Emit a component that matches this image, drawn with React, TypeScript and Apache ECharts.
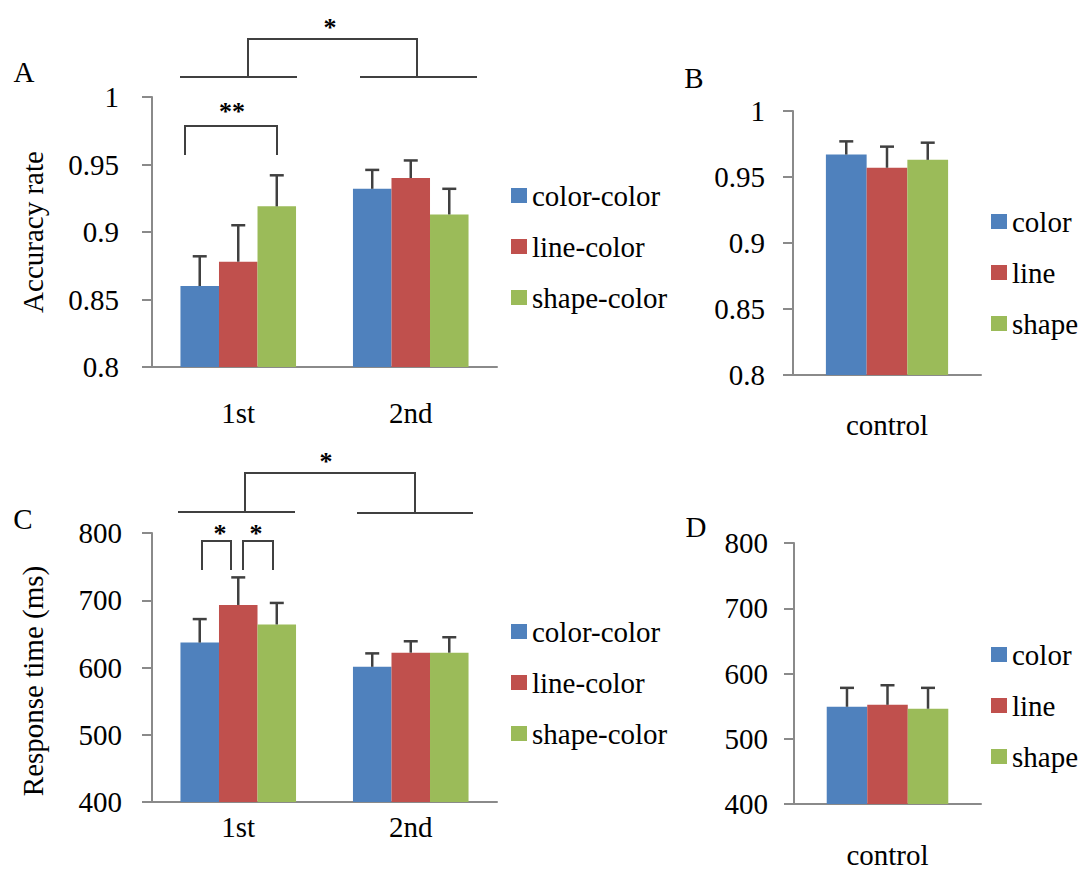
import React, { useEffect, useRef } from "react";
import * as echarts from "echarts";

// Categories
const sessions = ["1st", "2nd"];
const controlCat = ["control"];

// Legend names
const mixedNames = ["color-color", "line-color", "shape-color"];
const controlNames = ["color", "line", "shape"];

// Accuracy rate (A)
const accColorColor = [0.86, 0.932];
const accLineColor = [0.878, 0.94];
const accShapeColor = [0.919, 0.913];
const accColorColorErr = [0.022, 0.014];
const accLineColorErr = [0.027, 0.013];
const accShapeColorErr = [0.023, 0.019];

// Accuracy rate, control (B)
const ctrlAccColor = [0.967];
const ctrlAccLine = [0.957];
const ctrlAccShape = [0.963];
const ctrlAccColorErr = [0.01];
const ctrlAccLineErr = [0.016];
const ctrlAccShapeErr = [0.013];

// Response time (C)
const rtColorColor = [637, 601];
const rtLineColor = [693, 622];
const rtShapeColor = [664, 622];
const rtColorColorErr = [35, 20];
const rtLineColorErr = [41, 17];
const rtShapeColorErr = [32, 23];

// Response time, control (D)
const ctrlRtColor = [549];
const ctrlRtLine = [552];
const ctrlRtShape = [546];
const ctrlRtColorErr = [29];
const ctrlRtLineErr = [30];
const ctrlRtShapeErr = [32];

const COLORS = ["#4F81BD", "#C0504D", "#9BBB59"];
const FONT = "Liberation Serif";
const AXIS_COLOR = "#8a8a8a";
const INK = "#404040";

function errData(vals: number[][], errs: number[][]) {
  const out: number[][] = [];
  vals.forEach((arr, k) => {
    arr.forEach((v, c) => out.push([c, v, errs[k][c], k]));
  });
  return out;
}

// Upper-only error bars, placed over the matching bar of each group
function errorSeries(idx: number, gap: number, data: number[][]) {
  return {
    type: "custom",
    xAxisIndex: idx,
    yAxisIndex: idx,
    z: 5,
    clip: false,
    data,
    renderItem: (params: any, api: any) => {
      const cat = api.value(0);
      const val = api.value(1);
      const err = api.value(2);
      const k = api.value(3);
      const base = api.coord([cat, val]);
      const top = api.coord([cat, val + err]);
      const band = api.size([1, 0])[0];
      const bw = (band * (1 - gap)) / 3;
      const x = base[0] + (k - 1) * bw;
      const style = { stroke: INK, lineWidth: 2.5 };
      return {
        type: "group",
        children: [
          { type: "line", shape: { x1: x, y1: base[1], x2: x, y2: top[1] }, style },
          { type: "line", shape: { x1: x - 7, y1: top[1], x2: x + 7, y2: top[1] }, style },
        ],
      };
    },
  };
}

function bars(idx: number, names: string[], vals: number[][], gap: number) {
  return vals.map((v, k) => ({
    type: "bar",
    name: names[k],
    xAxisIndex: idx,
    yAxisIndex: idx,
    data: v,
    barGap: "0%",
    barCategoryGap: `${Math.round(gap * 100)}%`,
    itemStyle: { color: COLORS[k] },
  }));
}

const textBase = { color: "#000", fontFamily: FONT, fontSize: 29 };

function xAxis(idx: number, cats: string[], margin: number) {
  return {
    type: "category",
    gridIndex: idx,
    data: cats,
    axisLine: { lineStyle: { color: AXIS_COLOR, width: 2 } },
    axisTick: { show: false },
    axisLabel: { ...textBase, margin },
  };
}

function yAxis(idx: number, min: number, max: number, interval: number, margin: number) {
  return {
    type: "value",
    gridIndex: idx,
    min,
    max,
    interval,
    splitLine: { show: false },
    axisLine: { show: true, lineStyle: { color: AXIS_COLOR, width: 2 } },
    axisTick: { show: true, length: 10, lineStyle: { color: AXIS_COLOR, width: 2 } },
    axisLabel: { ...textBase, margin },
  };
}

function legend(names: string[], left: number, top: number) {
  return {
    data: names,
    orient: "vertical",
    left,
    top,
    icon: "rect",
    itemWidth: 16,
    itemHeight: 15,
    itemGap: 22,
    selectedMode: false,
    textStyle: { ...textBase },
  };
}

const line = (pts: number[][]) => ({
  type: "polyline",
  shape: { points: pts },
  style: { stroke: INK, lineWidth: 2, fill: "none" },
  z: 10,
});

const star = (x: number, y: number, text = "*") => ({
  type: "text",
  x,
  y: y + 3,
  z: 10,
  style: {
    text,
    fill: "#000",
    font: `bold 26px ${FONT}`,
    align: "center",
    verticalAlign: "middle",
  },
});

const label = (x: number, y: number, text: string, rotate = false) => ({
  type: "text",
  x,
  y,
  rotation: rotate ? Math.PI / 2 : 0,
  style: {
    text,
    fill: "#000",
    font: `29px ${FONT}`,
    align: "center",
    verticalAlign: "middle",
  },
});

export default function App() {
  const ref = useRef<HTMLDivElement>(null);

  useEffect(() => {
    if (!ref.current) return;
    const chart = echarts.init(ref.current, null, { renderer: "svg" });
    const gapA = 0.33;
    const gapB = 0.35;
    chart.setOption({
      animation: false,
      textStyle: { fontFamily: FONT },
      grid: [
        { left: 152, top: 97, width: 345, height: 270 },
        { left: 793, top: 111, width: 188, height: 264 },
        { left: 152, top: 533, width: 345, height: 269 },
        { left: 794, top: 543, width: 187, height: 264 },
      ],
      xAxis: [
        xAxis(0, sessions, 31),
        xAxis(1, controlCat, 35),
        xAxis(2, sessions, 10),
        xAxis(3, controlCat, 36),
      ],
      yAxis: [
        yAxis(0, 0.8, 1, 0.05, 33),
        yAxis(1, 0.8, 1, 0.05, 28),
        yAxis(2, 400, 800, 100, 30),
        yAxis(3, 400, 800, 100, 26),
      ],
      legend: [
        legend(mixedNames, 506, 176),
        legend(controlNames, 986, 202),
        legend(mixedNames, 506, 612),
        legend(controlNames, 986, 635),
      ],
      series: [
        ...bars(0, mixedNames, [accColorColor, accLineColor, accShapeColor], gapA),
        errorSeries(
          0,
          gapA,
          errData(
            [accColorColor, accLineColor, accShapeColor],
            [accColorColorErr, accLineColorErr, accShapeColorErr]
          )
        ),
        ...bars(1, controlNames, [ctrlAccColor, ctrlAccLine, ctrlAccShape], gapB),
        errorSeries(
          1,
          gapB,
          errData(
            [ctrlAccColor, ctrlAccLine, ctrlAccShape],
            [ctrlAccColorErr, ctrlAccLineErr, ctrlAccShapeErr]
          )
        ),
        ...bars(2, mixedNames, [rtColorColor, rtLineColor, rtShapeColor], gapA),
        errorSeries(
          2,
          gapA,
          errData(
            [rtColorColor, rtLineColor, rtShapeColor],
            [rtColorColorErr, rtLineColorErr, rtShapeColorErr]
          )
        ),
        ...bars(3, controlNames, [ctrlRtColor, ctrlRtLine, ctrlRtShape], gapB),
        errorSeries(
          3,
          gapB,
          errData(
            [ctrlRtColor, ctrlRtLine, ctrlRtShape],
            [ctrlRtColorErr, ctrlRtLineErr, ctrlRtShapeErr]
          )
        ),
      ],
      graphic: [
        // panel letters
        label(24, 72, "A"),
        label(694, 78, "B"),
        label(23, 519, "C"),
        label(696, 527, "D"),
        // axis titles
        label(33, 232, "Accuracy rate", true),
        label(33, 681, "Response time (ms)", true),
        // A: session comparison
        line([[180, 77], [297, 77]]),
        line([[360, 77], [477, 77]]),
        line([[248, 77], [248, 39], [417, 39], [417, 77]]),
        star(330, 24),
        // A: color-color vs shape-color in 1st
        line([[185, 155], [185, 126], [277, 126], [277, 155]]),
        star(232, 108, "**"),
        // C: session comparison
        line([[178, 512], [295, 512]]),
        line([[357, 513], [473, 513]]),
        line([[245, 512], [245, 473], [415, 473], [415, 513]]),
        star(326, 458),
        // C: pairwise in 1st
        line([[202, 570], [202, 541], [231, 541], [231, 570]]),
        star(220, 530),
        line([[243, 570], [243, 541], [273, 541], [273, 570]]),
        star(256, 530),
      ],
    });
    return () => chart.dispose();
  }, []);

  return (
    <div
      ref={ref}
      style={{ position: "absolute", left: 0, top: 0, width: 1084, height: 869, background: "#fff" }}
    />
  );
}
